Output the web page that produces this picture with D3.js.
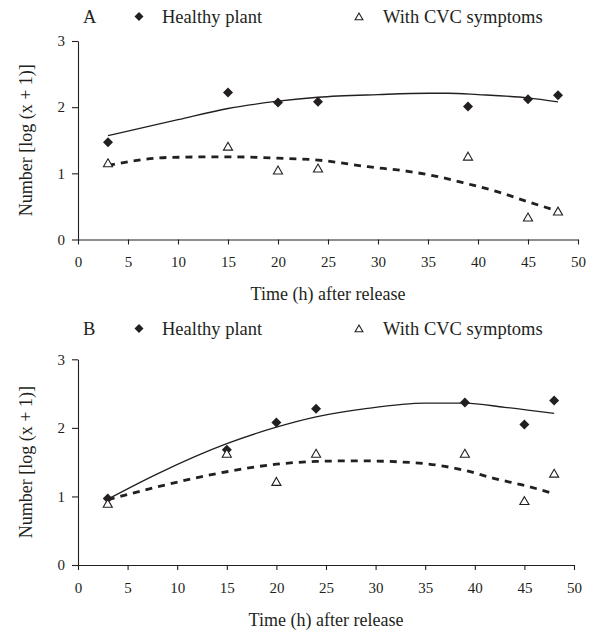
<!DOCTYPE html>
<html>
<head>
<meta charset="utf-8">
<script src="https://cdn.jsdelivr.net/npm/d3@7"></script>
<style>
    body { margin: 0; background: #ffffff; }
    text { font-family: "Liberation Serif", "Times New Roman", serif; fill: #231f20; }
    .axis path, .axis line { stroke: #231f20; stroke-width: 1.1; }
    .axis text { font-size: 15px; }
    .label { font-size: 18px; }
    .legend { font-size: 18.5px; }
</style>
</head>
<body>
<svg id="chart" width="592" height="635"></svg>
<script>

// Sampling times (h) of the observed points
var hours = [3, 15, 20, 24, 39, 45, 48];

// Panel A observations
var healthyA = [1.47, 2.22, 2.07, 2.08, 2.01, 2.12, 2.18];
var cvcA = [1.14, 1.39, 1.03, 1.06, 1.24, 0.32, 0.41];

// Panel B observations
var healthyB = [0.97, 1.68, 2.08, 2.28, 2.37, 2.05, 2.40];
var cvcB = [0.88, 1.61, 1.20, 1.61, 1.61, 0.92, 1.32];

// Trend lines
var trendHealthyAHours = [3, 10, 15, 20, 24, 30, 35, 37, 40, 45, 48];
var trendHealthyA = [1.57, 1.81, 1.98, 2.09, 2.15, 2.19, 2.21, 2.21, 2.19, 2.14, 2.08];
var trendCvcAHours = [3, 9, 15, 20, 24, 29, 33, 36, 39, 42, 45, 48];
var trendCvcA = [1.12, 1.24, 1.25, 1.23, 1.20, 1.10, 1.03, 0.95, 0.84, 0.72, 0.57, 0.43];

var trendHealthyBHours = [3, 8, 15, 20, 24, 29, 35, 39, 43, 48];
var trendHealthyB = [0.96, 1.33, 1.77, 2.01, 2.16, 2.28, 2.36, 2.36, 2.30, 2.21];
var trendCvcBHours = [3, 8, 15, 20, 24, 28, 34, 39, 42, 45, 48];
var trendCvcB = [0.95, 1.14, 1.36, 1.47, 1.51, 1.52, 1.49, 1.38, 1.26, 1.16, 1.04];

// Axis ticks and texts
var xTicks = [0, 5, 10, 15, 20, 25, 30, 35, 40, 45, 50];
var yTicks = [0, 1, 2, 3];
var seriesNames = ["Healthy plant", "With CVC symptoms"];

var svg = d3.select("#chart");

function zip(xs, ys) {
    /*
     * Pairs up x and y values
     */
    return xs.map(function(x, i) {
        return {x: x, y: ys[i]};
    });
}

function drawPanel(panel) {
    /*
     * Draws one panel: axes, trend lines, points and legend
     */

    var xScale = d3.scaleLinear()
        .domain([0, 50])
        .range([panel.left, panel.right]);

    var yScale = d3.scaleLinear()
        .domain([0, 3])
        .range([panel.bottom, panel.top]);

    // Draw x-axis
    svg.append("g")
        .attr("class", "axis")
        .attr("transform", `translate(0, ${panel.bottom})`)
        .call(d3.axisBottom(xScale)
            .tickValues(xTicks)
            .tickFormat(d3.format("d"))
            .tickSize(5)
            .tickSizeOuter(0)
            .tickPadding(12));

    // Draw y-axis
    svg.append("g")
        .attr("class", "axis")
        .attr("transform", `translate(${panel.left}, 0)`)
        .call(d3.axisLeft(yScale)
            .tickValues(yTicks)
            .tickFormat(d3.format("d"))
            .tickSize(6)
            .tickSizeOuter(0)
            .tickPadding(7));

    svg.selectAll(".axis .domain").attr("stroke", "#231f20");

    // Draw x label
    svg.append("text")
        .attr("class", "label")
        .attr("x", (panel.left + panel.right) / 2)
        .attr("y", panel.xLabelY)
        .attr("text-anchor", "middle")
        .text("Time (h) after release");

    // Draw y label
    svg.append("text")
        .attr("class", "label")
        .attr("transform", `translate(32, ${(panel.top + panel.bottom) / 2}) rotate(-90)`)
        .attr("text-anchor", "middle")
        .text("Number [log (x + 1)]");

    var line = d3.line()
        .x(function(d) { return xScale(d.x); })
        .y(function(d) { return yScale(d.y); })
        .curve(d3.curveMonotoneX);

    // Trend line for healthy plants
    svg.append("path")
        .datum(zip(panel.trendHealthyHours, panel.trendHealthy))
        .attr("fill", "none")
        .attr("stroke", "#231f20")
        .attr("stroke-width", 1.3)
        .attr("d", line);

    // Trend line for plants with symptoms
    svg.append("path")
        .datum(zip(panel.trendCvcHours, panel.trendCvc))
        .attr("fill", "none")
        .attr("stroke", "#231f20")
        .attr("stroke-width", 2.8)
        .attr("stroke-dasharray", "7,6")
        .attr("d", line);

    var diamond = d3.symbol().type(d3.symbolSquare).size(50);
    var triangle = d3.symbol().type(d3.symbolTriangle).size(36);

    // Healthy plant points
    svg.append("g")
        .selectAll("path")
        .data(zip(hours, panel.healthy))
        .enter()
        .append("path")
            .attr("d", diamond)
            .attr("fill", "#231f20")
            .attr("transform", function(d) {
                return `translate(${xScale(d.x)}, ${yScale(d.y)}) rotate(45)`;
            });

    // Points of plants with symptoms
    svg.append("g")
        .selectAll("path")
        .data(zip(hours, panel.cvc))
        .enter()
        .append("path")
            .attr("d", triangle)
            .attr("fill", "#ffffff")
            .attr("stroke", "#231f20")
            .attr("stroke-width", 1.1)
            .attr("transform", function(d) {
                return `translate(${xScale(d.x)}, ${yScale(d.y)})`;
            });

    // Legend with panel letter
    svg.append("text")
        .attr("class", "legend")
        .attr("x", 83)
        .attr("y", panel.legendY)
        .text(panel.letter);

    svg.append("path")
        .attr("d", d3.symbol().type(d3.symbolSquare).size(40))
        .attr("fill", "#231f20")
        .attr("transform", `translate(139, ${panel.legendY - 6}) rotate(45)`);

    svg.append("text")
        .attr("class", "legend")
        .attr("x", 162)
        .attr("y", panel.legendY)
        .text(seriesNames[0]);

    svg.append("path")
        .attr("d", d3.symbol().type(d3.symbolTriangle).size(26))
        .attr("fill", "#ffffff")
        .attr("stroke", "#231f20")
        .attr("stroke-width", 1.1)
        .attr("transform", `translate(359, ${panel.legendY - 5})`);

    svg.append("text")
        .attr("class", "legend")
        .attr("x", 383)
        .attr("y", panel.legendY)
        .text(seriesNames[1]);
}

drawPanel({
    letter: "A",
    left: 78,
    right: 578,
    top: 41,
    bottom: 239.5,
    xLabelY: 300,
    legendY: 22.5,
    healthy: healthyA,
    cvc: cvcA,
    trendHealthyHours: trendHealthyAHours,
    trendHealthy: trendHealthyA,
    trendCvcHours: trendCvcAHours,
    trendCvc: trendCvcA
});

drawPanel({
    letter: "B",
    left: 78,
    right: 574,
    top: 359.3,
    bottom: 565,
    xLabelY: 626,
    legendY: 334.5,
    healthy: healthyB,
    cvc: cvcB,
    trendHealthyHours: trendHealthyBHours,
    trendHealthy: trendHealthyB,
    trendCvcHours: trendCvcBHours,
    trendCvc: trendCvcB
});

</script>
</body>
</html>
